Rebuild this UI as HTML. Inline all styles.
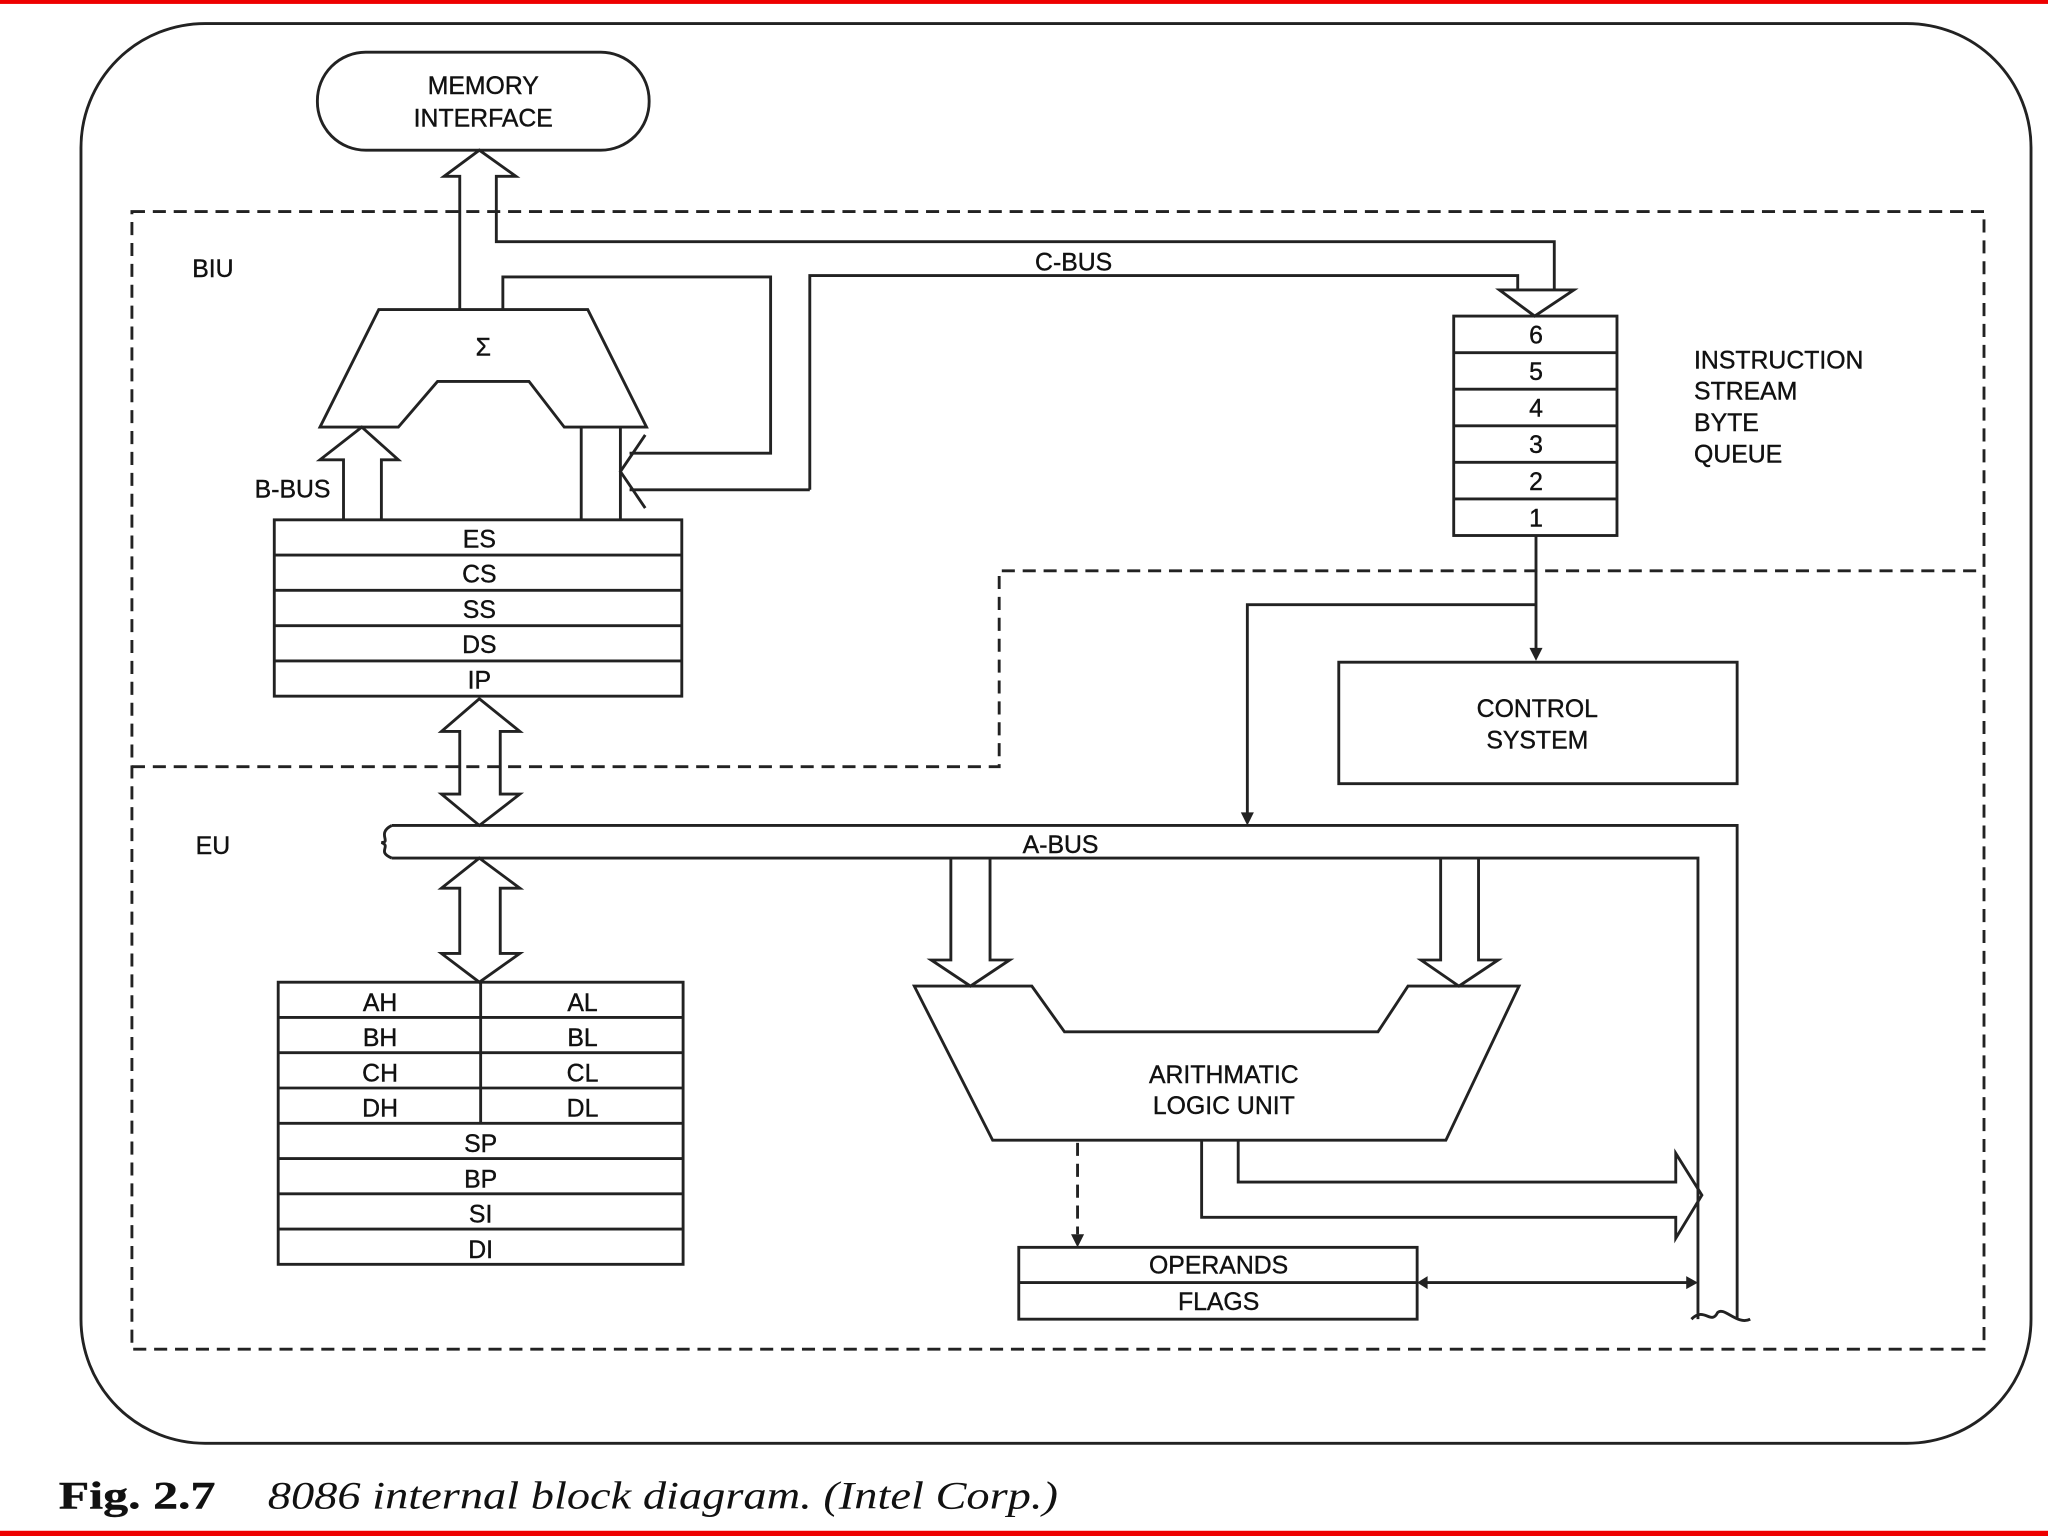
<!DOCTYPE html>
<html><head><meta charset="utf-8"><style>
html,body{margin:0;padding:0;background:#fff;}
svg{display:block;}
text{font-family:"Liberation Sans",sans-serif;font-size:19px;fill:#111;text-anchor:middle;stroke:#111;stroke-width:0.3;}
</style></head><body>
<svg width="2048" height="1536" viewBox="0 0 1568 1176" xmlns="http://www.w3.org/2000/svg">
<rect x="0" y="0" width="1568" height="1176" fill="#fff"/>
<rect x="0" y="0" width="1568" height="3" fill="#e00"/>
<rect x="0" y="1172" width="1568" height="4" fill="#e00"/>
<g fill="none" stroke="#222" stroke-width="2.2">
<rect x="62" y="18" width="1493" height="1087" rx="95"/>
<rect x="243" y="40" width="254" height="75" rx="37"/>
<g stroke-dasharray="10,6">
<rect x="101" y="162" width="1418" height="871"/>
<polyline points="101,587 765,587 765,437 1519,437"/>
<line x1="825" y1="875" x2="825" y2="945"/>
</g>
<polyline points="352,237 352,135 340,135 367,115 395,135 380,135 380,185 1190,185 1190,222"/>
<polyline points="620,375 620,211 1162,211 1162,222"/>
<polygon points="1148,222 1205,222 1175,242"/>
<polyline points="385,237 385,212 590,212 590,347 482,347"/>
<polyline points="620,375 482,375"/>
<polyline points="494,333 475,361 494,389"/>
<polygon points="290,237 450,237 495,327 432,327 405,292 335,292 305,327 245,327"/>
<polyline points="263,398 263,352 245,352 277,327 305,352 292,352 292,398"/>
<polyline points="445,327 445,398"/><polyline points="475,327 475,398"/>
<rect x="210" y="398" width="312" height="135"/>
<line x1="210" y1="425" x2="522" y2="425"/><line x1="210" y1="452" x2="522" y2="452"/>
<line x1="210" y1="479" x2="522" y2="479"/><line x1="210" y1="506" x2="522" y2="506"/>
<polygon points="367,535 398,560 383,560 383,608 398,608 367,632 338,608 352,608 352,560 338,560"/>
<polygon points="367,657 398,680 383,680 383,730 398,730 367,752 338,730 352,730 352,680 338,680"/>
<polyline points="300,632 1330,632 1330,1010"/>
<polyline points="300,657 1300,657 1300,1010"/>
<path d="M300,632 C288,638 300,645 292,645 C300,648 288,652 300,657"/>
<path d="M1295,1010 C1305,1000 1310,1015 1315,1005 C1320,1000 1330,1015 1340,1010"/>
<polyline points="728,657 728,735 713,735 743,755 773,735 758,735 758,657"/>
<polyline points="1103,657 1103,735 1088,735 1117,755 1147,735 1132,735 1132,657"/>
<polygon points="700,755 790,755 815,790 1055,790 1078,755 1163,755 1107,873 760,873"/>
<polyline points="920,873 920,932 1283,932 1283,948 1303,915 1283,883 1283,905 948,905 948,873"/>
<rect x="213" y="752" width="310" height="216"/>
<line x1="213" y1="779" x2="523" y2="779"/><line x1="213" y1="806" x2="523" y2="806"/>
<line x1="213" y1="833" x2="523" y2="833"/><line x1="213" y1="860" x2="523" y2="860"/>
<line x1="213" y1="887" x2="523" y2="887"/><line x1="213" y1="914" x2="523" y2="914"/>
<line x1="213" y1="941" x2="523" y2="941"/><line x1="368" y1="752" x2="368" y2="860"/>
<rect x="780" y="955" width="305" height="55"/><line x1="780" y1="982" x2="1085" y2="982"/>
<line x1="1092" y1="982" x2="1293" y2="982"/>
<rect x="1113" y="242" width="125" height="168"/>
<line x1="1113" y1="270" x2="1238" y2="270"/><line x1="1113" y1="298" x2="1238" y2="298"/>
<line x1="1113" y1="326" x2="1238" y2="326"/><line x1="1113" y1="354" x2="1238" y2="354"/>
<line x1="1113" y1="382" x2="1238" y2="382"/>
<polyline points="1176,410 1176,498"/>
<polyline points="1176,463 955,463 955,624"/>
<rect x="1025" y="507" width="305" height="93"/>
</g>
<g fill="#222">
<polygon points="1171,496 1181,496 1176,506"/>
<polygon points="950,622 960,622 955,632"/>
<polygon points="820,945 830,945 825,955"/>
<polygon points="1093,977 1093,987 1085,982"/>
<polygon points="1291,977 1291,987 1300,982"/>
</g>
<text x="370" y="72">MEMORY</text><text x="370" y="97">INTERFACE</text>
<text x="163" y="212" font-size="18">BIU</text><text x="163" y="654" font-size="18">EU</text>
<text x="822" y="207">C-BUS</text><text x="224" y="381">B-BUS</text>
<text x="370" y="272">Σ</text>
<text x="367" y="419">ES</text><text x="367" y="446">CS</text><text x="367" y="473">SS</text><text x="367" y="500">DS</text><text x="367" y="527">IP</text>
<text x="1176" y="263">6</text><text x="1176" y="291">5</text><text x="1176" y="319">4</text><text x="1176" y="347">3</text><text x="1176" y="375">2</text><text x="1176" y="403">1</text>
<text x="1297" y="282" style="text-anchor:start">INSTRUCTION</text><text x="1297" y="306" style="text-anchor:start">STREAM</text><text x="1297" y="330" style="text-anchor:start">BYTE</text><text x="1297" y="354" style="text-anchor:start">QUEUE</text>
<text x="1177" y="549">CONTROL</text><text x="1177" y="573">SYSTEM</text>
<text x="812" y="653">A-BUS</text>
<text x="291" y="774">AH</text><text x="446" y="774">AL</text>
<text x="291" y="801">BH</text><text x="446" y="801">BL</text>
<text x="291" y="828">CH</text><text x="446" y="828">CL</text>
<text x="291" y="855">DH</text><text x="446" y="855">DL</text>
<text x="368" y="882">SP</text><text x="368" y="909">BP</text><text x="368" y="936">SI</text><text x="368" y="963">DI</text>
<text x="937" y="829">ARITHMATIC</text><text x="937" y="853">LOGIC UNIT</text>
<text x="933" y="975">OPERANDS</text><text x="933" y="1003">FLAGS</text>
<text x="45" y="1155" textLength="120" lengthAdjust="spacingAndGlyphs" style="text-anchor:start;font-family:'Liberation Serif',serif;font-weight:bold;font-size:30px">Fig. 2.7</text>
<text x="205" y="1155" textLength="605" lengthAdjust="spacingAndGlyphs" style="text-anchor:start;font-family:'Liberation Serif',serif;font-style:italic;font-size:30px;stroke-width:0">8086 internal block diagram. (Intel Corp.)</text>
</svg>
</body></html>
